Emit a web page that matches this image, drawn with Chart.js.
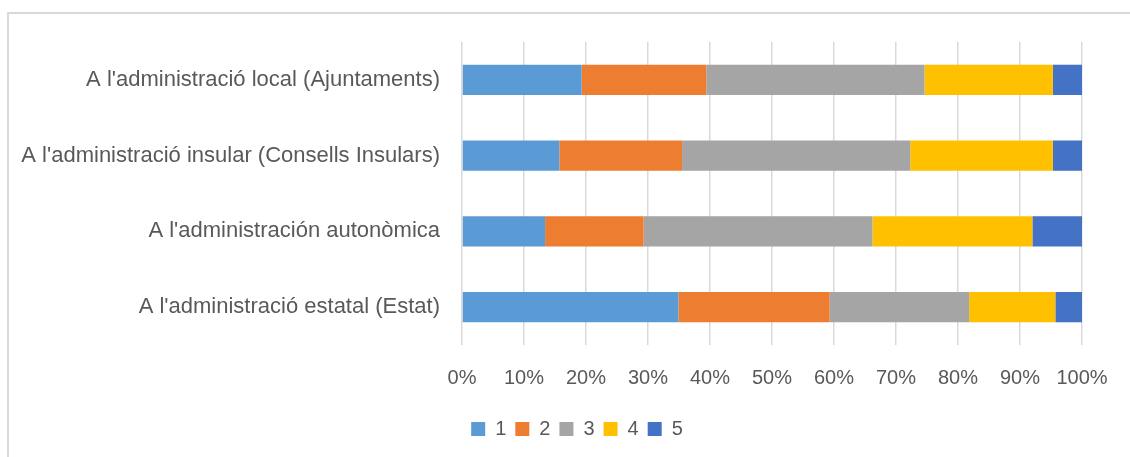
<!DOCTYPE html>
<html>
<head>
<meta charset="utf-8">
<script src="https://cdn.jsdelivr.net/npm/chart.js@4"></script>
<style>
  body { margin: 0; background: #fff; }
  #frame { position: absolute; left: 7px; top: 12px; width: 1130px; height: 460px;
           border-top: 2px solid #d9d9d9; border-left: 2px solid #d9d9d9; }
  #wrap { position: absolute; left: 0; top: 0; width: 1130px; height: 457px; }
</style>
</head>
<body>
<div id="frame"></div>
<div id="wrap"><canvas id="chart"></canvas></div>
<script>
const labels = [
  "A l'administració local (Ajuntaments)",
  "A l'administració insular (Consells Insulars)",
  "A l'administración autonòmica",
  "A l'administració estatal (Estat)"
];
const seriesNames = ['1', '2', '3', '4', '5'];
const s1 = [19.3, 15.7, 13.4, 34.9];
const s2 = [20.1, 19.8, 15.9, 24.4];
const s3 = [35.2, 36.8, 36.9, 22.5];
const s4 = [20.7, 23.0, 25.8, 13.9];
const s5 = [4.7, 4.7, 8.0, 4.3];
const colors = ['#5B9BD5', '#ED7D31', '#A5A5A5', '#FFC000', '#4472C4'];

const allSeries = [s1, s2, s3, s4, s5];
const font = "'Liberation Sans', Arial, sans-serif";

// legend sits a bit right of centre, like the original
const legendShift = {
  id: 'legendShift',
  afterLayout(chart) {
    chart.legend.left += 36;
    chart.legend.right += 36;
  }
};

const ctx = document.getElementById('chart').getContext('2d');
const chart = new Chart(ctx, {
  type: 'bar',
  data: {
    labels: labels,
    datasets: allSeries.map((d, i) => ({
      label: seriesNames[i],
      data: d,
      backgroundColor: colors[i],
      borderWidth: 0,
      barPercentage: 0.4,
      categoryPercentage: 1.0
    }))
  },
  options: {
    indexAxis: 'y',
    responsive: true,
    maintainAspectRatio: false,
    animation: false,
    layout: { padding: { top: 42, right: 48, bottom: 8, left: 0 } },
    plugins: {
      legend: {
        position: 'bottom',
        labels: {
          color: '#595959',
          font: { family: font, size: 20 },
          boxWidth: 14,
          boxHeight: 14,
          padding: 9
        }
      },
      tooltip: { enabled: false }
    },
    scales: {
      x: {
        stacked: true,
        min: 0,
        max: 100,
        ticks: {
          stepSize: 10,
          color: '#595959',
          font: { family: font, size: 20 },
          padding: 21,
          callback: v => v + '%'
        },
        grid: { color: '#d9d9d9', lineWidth: 1.5, drawTicks: false },
        border: { display: false },
        afterFit: s => { s.height = 65; }
      },
      y: {
        stacked: true,
        ticks: {
          color: '#595959',
          font: { family: font, size: 22 },
          padding: 22
        },
        grid: { display: false, drawTicks: false },
        border: { display: false },
        afterFit: s => { s.width = 462; }
      }
    }
  },
  plugins: [legendShift]
});
</script>
</body>
</html>
